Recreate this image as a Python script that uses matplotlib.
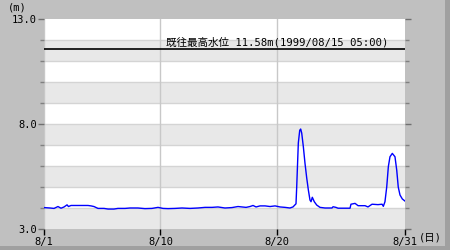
import matplotlib
matplotlib.use("Agg")
import matplotlib.pyplot as plt
from matplotlib.patches import Rectangle

# ---- data (days since 8/1 00:00, water level in m) ----
days = [0.0, 0.52, 0.86, 1.20, 1.46, 1.72, 1.98, 2.10, 2.32, 3.09, 3.78, 4.04, 4.29,
        4.64, 5.15, 5.50, 6.01, 6.35, 6.96, 7.39, 8.07, 8.67, 9.27, 9.79, 10.22,
        10.65, 11.25, 11.85, 12.54, 13.22, 13.83, 14.43, 14.94, 15.54, 16.14,
        16.66, 17.00, 17.35, 17.69, 17.95, 18.21, 18.55, 18.98, 19.41, 19.84,
        20.27, 20.70, 21.12, 21.38, 21.64, 21.70, 21.84, 21.96, 22.04, 22.13,
        22.27, 22.41, 22.56, 22.70, 22.84, 22.93, 23.04, 23.21, 23.42, 23.70,
        24.13, 24.73, 24.82, 25.07, 25.25, 25.76, 26.28, 26.36, 26.71, 26.97,
        27.57, 27.82, 28.17, 28.68, 29.03, 29.14, 29.28, 29.43, 29.57, 29.71,
        29.91, 30.14, 30.29, 30.42, 30.57, 30.77, 31.0]
levels = [4.02, 4.00, 3.98, 4.07, 3.99, 4.05, 4.15, 4.07, 4.12, 4.12, 4.12, 4.10, 4.07,
          3.98, 3.98, 3.95, 3.95, 3.98, 3.98, 4.00, 4.00, 3.97, 3.98, 4.03, 3.98,
          3.97, 3.98, 4.00, 3.98, 4.00, 4.03, 4.03, 4.05, 4.00, 4.02,
          4.07, 4.05, 4.03, 4.07, 4.12, 4.05, 4.10, 4.10, 4.07, 4.10,
          4.05, 4.03, 4.00, 4.05, 4.20, 5.00, 7.10, 7.70, 7.76, 7.57,
          6.92, 6.14, 5.43, 4.86, 4.38, 4.30, 4.51, 4.30, 4.14, 4.03,
          4.00, 4.00, 4.06, 4.03, 3.99, 3.99, 3.99, 4.18, 4.22, 4.11,
          4.11, 4.05, 4.18, 4.16, 4.18, 4.08, 4.30, 5.00, 5.97, 6.44,
          6.60, 6.44, 5.80, 5.00, 4.62, 4.43, 4.33]

record_level = 11.58
record_label = "既往最高水位 11.58m(1999/08/15 05:00)"
x_tick_pos = [0, 10, 20, 31]
x_tick_labels = ["8/1", "8/10", "8/20", "8/31"]
y_major = [3, 8, 13]
y_major_labels = ["3.0", "8.0", "13.0"]
y_minor = [4, 5, 6, 7, 9, 10, 11, 12]

W, H = 450, 250
fig = plt.figure(figsize=(W / 100, H / 100), dpi=100)
fig.patch.set_facecolor("#c0c0c0")
# bevel edges
fig.patches.append(Rectangle((445 / W, 0), 5 / W, 1, transform=fig.transFigure,
                             facecolor="#a0a0a0", edgecolor="none", zorder=-1))
fig.patches.append(Rectangle((0, 0), 1, 4 / H, transform=fig.transFigure,
                             facecolor="#a0a0a0", edgecolor="none", zorder=-1))

ax = fig.add_axes([44 / W, 1 - 229 / H, (405 - 44) / W, (229 - 19) / H])
ax.set_facecolor("white")
ax.set_xlim(0, 31)
ax.set_ylim(3, 13)

for lo in [3, 5, 7, 9, 11]:
    ax.axhspan(lo, lo + 1, color="#e8e8e8", lw=0, zorder=0)
for yv in range(4, 13):
    ax.axhline(yv, color="#d4d4d4", lw=1, zorder=1)
for xv in [0, 10, 20]:
    ax.axvline(xv, color="#c8c8c8", lw=1, zorder=1)

ax.axhline(record_level, color="black", lw=1.2, zorder=3)
mono = "DejaVu Sans Mono"
ax.text(10.45, record_level + 0.05, record_label, fontsize=7.6,
        family=[mono, "Noto Sans CJK JP"], va="bottom", ha="left", zorder=4)

ax.plot(days, levels, color="#0000ff", lw=1.0, zorder=5)

for s in ax.spines.values():
    s.set_visible(False)

ax.set_xticks(x_tick_pos)
ax.set_xticklabels(x_tick_labels, family=mono, fontsize=7.5)
ax.tick_params(axis="x", direction="out", length=4, width=1, color="black", pad=2)

ax.set_yticks(y_major)
ax.set_yticklabels(y_major_labels, family=mono, fontsize=7.5)
ax.set_yticks(y_minor, minor=True)
ax.tick_params(axis="y", which="major", direction="out", length=4, width=1,
               color="#707070", left=True, right=True, pad=1)
ax.tick_params(axis="y", which="minor", direction="out", length=3, width=1,
               color="#808080", left=True, right=True)

fig.text(8 / W, 1 - 7 / H, "(m)", family=mono, fontsize=7.5, va="center", ha="left")
fig.text(430 / W, 1 - 238 / H, "(日)", family=[mono, "Noto Sans CJK JP"],
         fontsize=7.5, va="center", ha="center")

fig.savefig("out.png", dpi=100, facecolor=fig.get_facecolor())
